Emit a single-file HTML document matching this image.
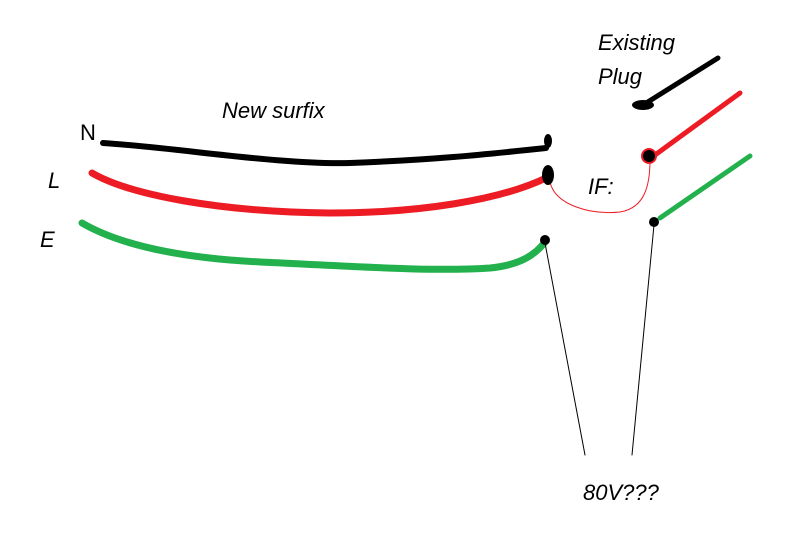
<!DOCTYPE html>
<html><head><meta charset="utf-8"><style>
html,body{margin:0;padding:0;background:#fff;}
svg{display:block;}
text{font-family:"Liberation Sans",sans-serif;fill:#000;}
</style></head><body>
<svg width="800" height="538" viewBox="0 0 800 538" xmlns="http://www.w3.org/2000/svg">
<g fill="none" stroke-linecap="round" stroke-linejoin="round">
<path d="M103,143 C180,148 280,165 350,163 C430,160 480,155 546,148" stroke="#000" stroke-width="6"/>
<path d="M92,173 C130,195 220,212 330,213 C420,213 500,200 546,178" stroke="#ed1c24" stroke-width="7"/>
<path d="M82,223 C120,245 180,258 260,262 C350,266 430,272 490,268 C520,265 535,255 545,242" stroke="#22b14c" stroke-width="7"/>
<path d="M550,182 C555,205 590,215 620,212 C645,208 650,185 650,160" stroke="#ed1c24" stroke-width="1"/>
<path d="M655,155 L740,93" stroke="#ed1c24" stroke-width="5"/>
<path d="M643,105 L718,58" stroke="#000" stroke-width="5"/>
<path d="M660,218 L750,156" stroke="#22b14c" stroke-width="5"/>
<path d="M545,243 L585,455" stroke="#000" stroke-width="1"/>
<path d="M654,225 L632,455" stroke="#000" stroke-width="1"/>
</g>
<ellipse cx="548" cy="141" rx="4" ry="7" fill="#000"/>
<ellipse cx="548" cy="175" rx="6" ry="10" fill="#000"/>
<circle cx="545" cy="240" r="5" fill="#000"/>
<circle cx="649" cy="156" r="7" fill="#000" stroke="#ed1c24" stroke-width="2"/>
<ellipse cx="643" cy="105" rx="11" ry="5" fill="#000"/>
<circle cx="654" cy="222" r="5" fill="#000"/>
<text x="222" y="118" font-size="22" font-style="italic">New surfix</text>
<text x="80" y="140" font-size="22">N</text>
<text x="48" y="188" font-size="22" font-style="italic">L</text>
<text x="40" y="247" font-size="22" font-style="italic">E</text>
<text x="588" y="194" font-size="22" font-style="italic">IF:</text>
<text x="598" y="50" font-size="22" font-style="italic">Existing</text>
<text x="598" y="84" font-size="22" font-style="italic">Plug</text>
<text x="583" y="500" font-size="22" font-style="italic">80V???</text>
</svg>
</body></html>
